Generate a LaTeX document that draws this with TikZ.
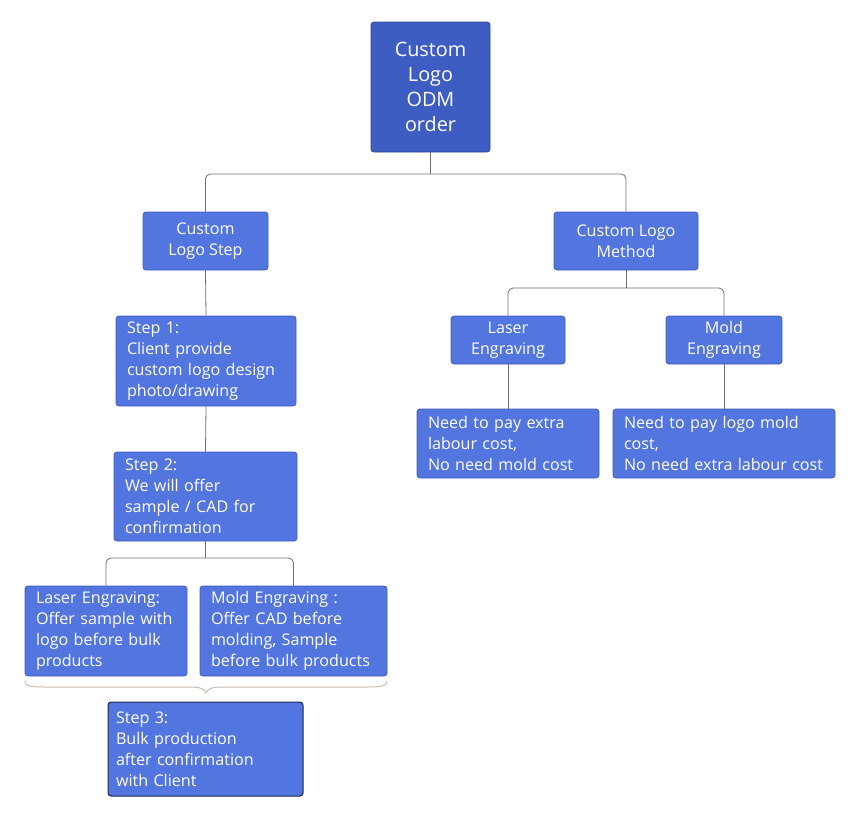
\documentclass[tikz,border=0pt]{standalone}
\usepackage{fontspec}
\setmainfont{Open Sans}
\definecolor{topfill}{HTML}{3E5DC2}
\definecolor{topdraw}{HTML}{2C4699}
\definecolor{boxfill}{HTML}{5275DF}
\definecolor{boxdraw}{HTML}{3F5CB8}
\definecolor{darkdraw}{HTML}{1B2550}
\definecolor{conncol}{HTML}{6E6E6E}
\definecolor{bracecol}{HTML}{C8BDB0}
\begin{document}
\begin{tikzpicture}[x=1pt,y=-1pt,
  box/.style={draw=boxdraw,fill=boxfill,rounded corners=3pt,line width=0.8pt,
    text=white,font=\fontsize{16.1}{21}\selectfont,inner sep=0pt,align=center},
  lbox/.style={box,align=left,inner xsep=11pt},
  topbox/.style={box,fill=topfill,draw=topdraw,font=\fontsize{19.8}{25}\selectfont},
  conn/.style={draw=conncol,line width=0.8pt,rounded corners=5pt}]
\useasboundingbox (0,0) rectangle (857,817);

\node[topbox,minimum width=119pt,minimum height=130pt] (top) at (430.5,87) {Custom\\Logo\\ODM\\order};
\node[box,minimum width=125pt,minimum height=58pt] (cls) at (205.5,241) {Custom\\Logo Step};
\node[box,minimum width=144pt,minimum height=58pt] (clm) at (626,241) {Custom Logo\\Method};

\node[lbox,minimum width=180pt,minimum height=90pt,text width=158pt] (s1) at (206,361) {Step 1:\\Client provide\\custom logo design\\photo/drawing};
\node[lbox,minimum width=183pt,minimum height=89pt,text width=161pt] (s2) at (205.5,496.5) {Step 2:\\We will offer\\sample / CAD for\\confirmation};
\node[lbox,minimum width=162pt,minimum height=90pt,text width=140pt] (le) at (106,631) {Laser Engraving:\\Offer sample with\\logo before bulk\\products};
\node[lbox,minimum width=187pt,minimum height=90pt,text width=165pt] (me) at (293.5,631) {Mold Engraving :\\Offer CAD before\\molding, Sample\\before bulk products};
\node[lbox,draw=darkdraw,line width=1pt,inner xsep=8pt,minimum width=195pt,minimum height=94pt,text width=179pt] (s3) at (205.5,749) {Step 3:\\Bulk production\\after confirmation\\with Client};

\node[box,minimum width=114pt,minimum height=48pt] (rle) at (508,340) {Laser\\Engraving};
\node[box,minimum width=116pt,minimum height=48pt] (rme) at (724,340) {Mold\\Engraving};
\node[lbox,minimum width=182pt,minimum height=69pt,text width=160pt] (n1) at (508,443.5) {Need to pay extra\\labour cost,\\No need mold cost};
\node[lbox,minimum width=222pt,minimum height=69pt,text width=200pt] (n2) at (724,443.5) {Need to pay logo mold\\cost,\\No need extra labour cost};

\coordinate (j1) at (430.5,174);
\coordinate (j2) at (205.5,558);
\coordinate (j3) at (626,288);

\draw[conn] (top.south) -- (j1);
\draw[conn] (cls.north) |- (j1) -| (clm.north);
\draw[conn] (cls.south) -- (s1.north);
\draw[conn] (s1.south) -- (s2.north);
\draw[conn] (s2.south) -- (j2);
\draw[conn] (le.north) |- (j2) -| (me.north);
\draw[conn] (clm.south) -- (j3);
\draw[conn] (rle.north) |- (j3) -| (rme.north);
\draw[conn] (rle.south) -- (n1.north);
\draw[conn] (rme.south) -- (n2.north);

\draw[draw=bracecol,line width=1pt] (25,681) .. controls (25,686) and (30,687) .. (45,687) -- (190,687) .. controls (200,687) and (205,689) .. (206,693) .. controls (207,689) and (212,687) .. (222,687) -- (367,687) .. controls (382,687) and (387,686) .. (387,681);
\end{tikzpicture}
\end{document}
